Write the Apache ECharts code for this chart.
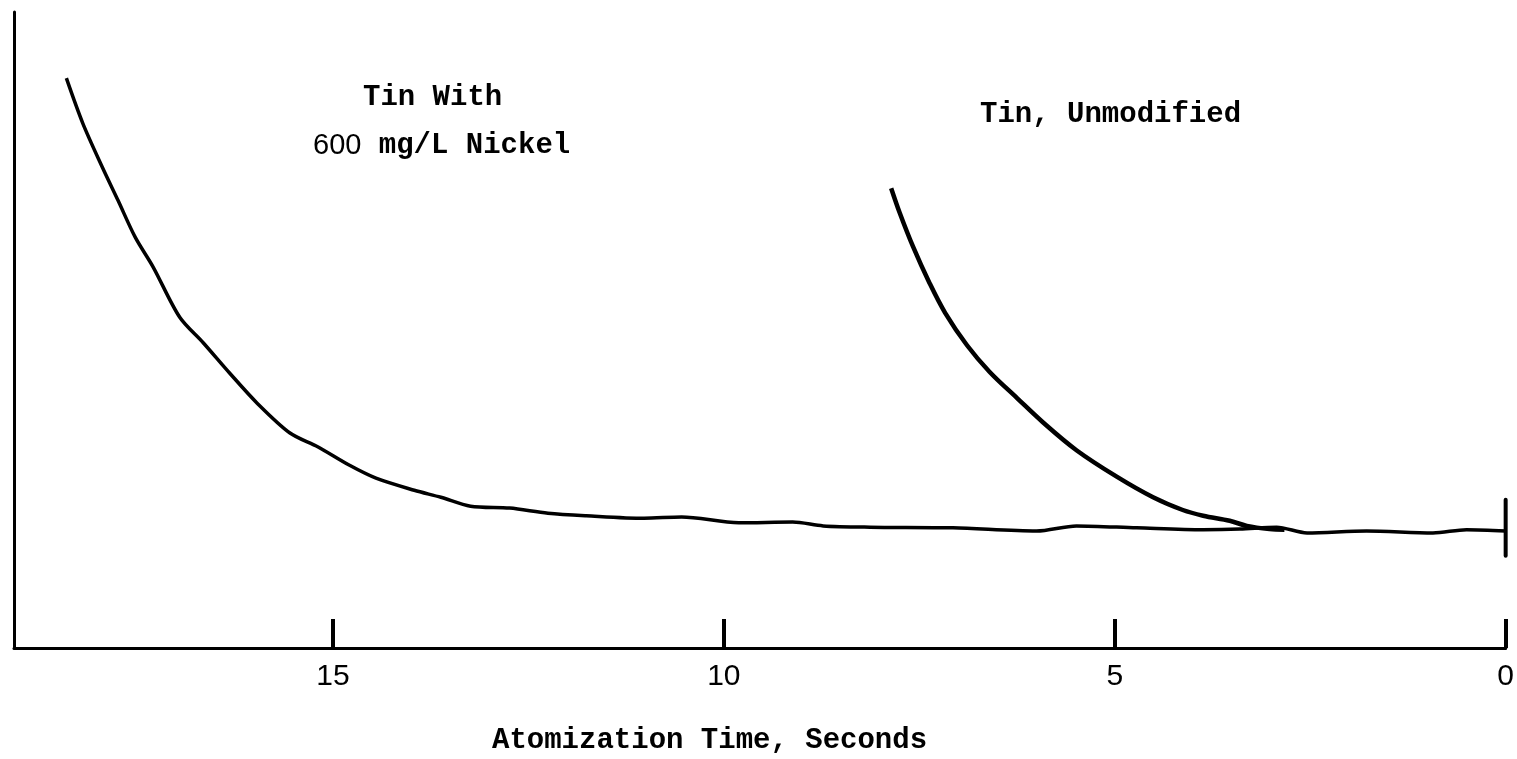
<!DOCTYPE html>
<html>
<head>
<meta charset="utf-8">
<title>Atomization Time, Seconds</title>
<script src="https://cdn.jsdelivr.net/npm/echarts@6/dist/echarts.min.js"></script>
<style>
  html, body { margin: 0; padding: 0; background: #ffffff; }
  #chart { width: 1517px; height: 759px; }
</style>
</head>
<body>
<div id="chart"></div>
<script>
// Time axis runs right-to-left: 0 s at the right edge.
const tickValues = [0, 5, 10, 15];
const tickLabels = ['0', '5', '10', '15'];

// Tin with 600 mg/L nickel: [seconds, signal]
const tinNickel = [
  [18.41, 89.6], [18.20, 82.5], [17.95, 75.6], [17.75, 70.4], [17.53, 64.6],
  [17.30, 59.9], [16.96, 52.0], [16.66, 48.0], [16.32, 43.2], [15.97, 38.5],
  [15.55, 33.8], [15.19, 31.6], [14.80, 28.8], [14.45, 26.7], [13.96, 24.8],
  [13.62, 23.7], [13.24, 22.3], [12.74, 22.0], [12.25, 21.2], [11.76, 20.8],
  [11.02, 20.4], [10.54, 20.6], [9.81, 19.7], [9.12, 19.8], [8.73, 19.2],
  [8.13, 19.0], [7.07, 18.9], [6.00, 18.4], [5.49, 19.2], [4.72, 18.9],
  [3.87, 18.6], [3.40, 18.7], [2.93, 19.0], [2.54, 18.1], [1.78, 18.4],
  [0.93, 18.1], [0.50, 18.6], [0.00, 18.4]
];

// Tin, unmodified: [seconds, signal]
const tinUnmodified = [
  [7.86, 72.3], [7.75, 68.4], [7.58, 63.1], [7.37, 57.4], [7.17, 52.7],
  [6.89, 47.6], [6.60, 43.4], [6.25, 39.3], [5.92, 35.5], [5.49, 31.1],
  [4.97, 26.9], [4.51, 23.7], [4.13, 21.7], [3.87, 20.8], [3.53, 20.0],
  [3.31, 19.2], [3.02, 18.7], [2.83, 18.6]
];

// Short vertical bar marking the baseline at 0 s
const endMarker = [[0, 23.3], [0, 14.5]];

const seriesNames = ['Tin With 600 mg/L Nickel', 'Tin, Unmodified'];
const axisTitle = 'Atomization Time, Seconds';

const chart = echarts.init(document.getElementById('chart'), null, { renderer: 'canvas' });

const typeFont = '"Liberation Mono", "DejaVu Sans Mono", monospace';
const numFont = '"Liberation Sans", "DejaVu Sans", sans-serif';

chart.setOption({
  backgroundColor: '#ffffff',
  animation: false,
  grid: { left: 14, right: 11, top: 12, bottom: 111, containLabel: false },
  xAxis: {
    type: 'value',
    inverse: true,
    min: 0,
    max: 19.08,
    interval: 5,
    axisLine: { show: true, onZero: false, lineStyle: { color: '#000', width: 3 } },
    axisTick: {
      show: true,
      inside: true,
      length: 29,
      customValues: tickValues,
      lineStyle: { color: '#000', width: 4 }
    },
    axisLabel: {
      show: true,
      margin: 14,
      customValues: tickValues,
      formatter: v => tickLabels[tickValues.indexOf(v)] ?? '',
      color: '#000',
      fontFamily: numFont,
      fontSize: 30
    },
    splitLine: { show: false }
  },
  yAxis: {
    type: 'value',
    min: 0,
    max: 100,
    axisLine: { show: true, onZero: false, lineStyle: { color: '#000', width: 3 } },
    axisTick: { show: false },
    axisLabel: { show: false },
    splitLine: { show: false }
  },
  series: [
    {
      name: seriesNames[0],
      type: 'line',
      data: tinNickel,
      showSymbol: false,
      smooth: 0.3,
      lineStyle: { color: '#000', width: 3.5 }
    },
    {
      name: seriesNames[1],
      type: 'line',
      data: tinUnmodified,
      showSymbol: false,
      smooth: 0.35,
      lineStyle: { color: '#000', width: 4.5 }
    },
    {
      name: 'marker',
      type: 'line',
      data: endMarker,
      showSymbol: false,
      lineStyle: { color: '#000', width: 4, cap: 'round' }
    }
  ],
  graphic: [
    {
      type: 'text', left: 363, top: 83,
      style: { text: 'Tin With', font: 'bold 29px ' + typeFont, fill: '#000' }
    },
    {
      type: 'text', left: 313, top: 131,
      style: {
        text: '{n|600} mg/L Nickel',
        font: 'bold 29px ' + typeFont,
        fill: '#000',
        rich: { n: { fontFamily: numFont, fontSize: 29, fontWeight: 'normal', fill: '#000' } }
      }
    },
    {
      type: 'text', left: 980, top: 100,
      style: { text: 'Tin, Unmodified', font: 'bold 29px ' + typeFont, fill: '#000' }
    },
    {
      type: 'text', left: 492, top: 726,
      style: { text: axisTitle, font: 'bold 29px ' + typeFont, fill: '#000' }
    }
  ]
});
</script>
</body>
</html>
